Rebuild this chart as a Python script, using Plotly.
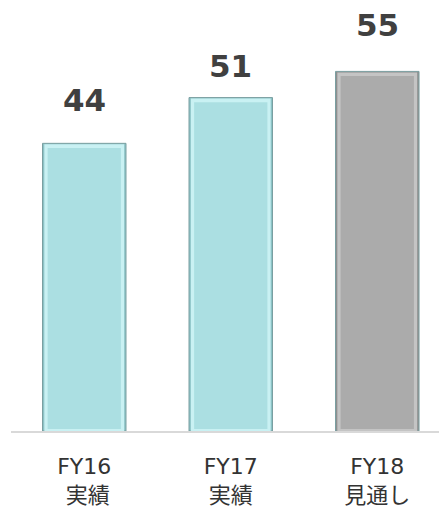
import plotly.graph_objects as go

categories = ["FY16<br> 実績", "FY17<br>実績", "FY18<br>見通し"]
values = [44, 51, 55]
value_labels = ["44", "51", "55"]
bar_colors = ["#abdfe2", "#abdfe2", "#ababab"]
edge_colors = ["#8cc3c6", "#8cc3c6", "#8f8f8f"]
top_colors = ["#c9f1f3", "#c9f1f3", "#c4c4c4"]

# styling: label offsets above bars (pixels)
label_yshift = [23, 12, 26]
bevel = 0.7  # bevel depth in value units (styling)

fig = go.Figure()
# outer bar (edges)
fig.add_trace(go.Bar(
    x=categories, y=values, width=0.57,
    marker=dict(color=edge_colors, line=dict(color="#7a9fa1", width=1)),
    hoverinfo="skip",
))
# top highlight
fig.add_trace(go.Bar(
    x=categories, y=[v - 0.15 for v in values], width=0.545,
    marker=dict(color=top_colors, line=dict(width=0)),
    hoverinfo="skip",
))
# inner face
fig.add_trace(go.Bar(
    x=categories, y=[v - bevel - 0.3 for v in values], base=0.3, width=0.50,
    marker=dict(color=bar_colors, line=dict(width=0)),
    hoverinfo="skip",
))

for c, v, t, s in zip(categories, values, value_labels, label_yshift):
    fig.add_annotation(
        x=c, y=v, text=f"<b>{t}</b>", showarrow=False,
        yanchor="bottom", yshift=s,
        font=dict(family="DejaVu Sans", size=31, color="#404040"),
    )

fig.update_layout(
    width=439, height=500,
    margin=dict(l=3, r=0, t=0, b=75),
    paper_bgcolor="white", plot_bgcolor="white",
    showlegend=False, barmode="overlay",
    xaxis=dict(
        range=[-0.5, 2.476],
        showgrid=False, zeroline=False,
        showline=True, linecolor="#d9d9d9", linewidth=2,
        ticks="", tickfont=dict(family="DejaVu Sans, Noto Sans CJK JP", size=22, color="#333333"),
        ticklabelstandoff=15,
    ),
    yaxis=dict(range=[0, 64.7], visible=False),
)

fig.write_html("out.html")
